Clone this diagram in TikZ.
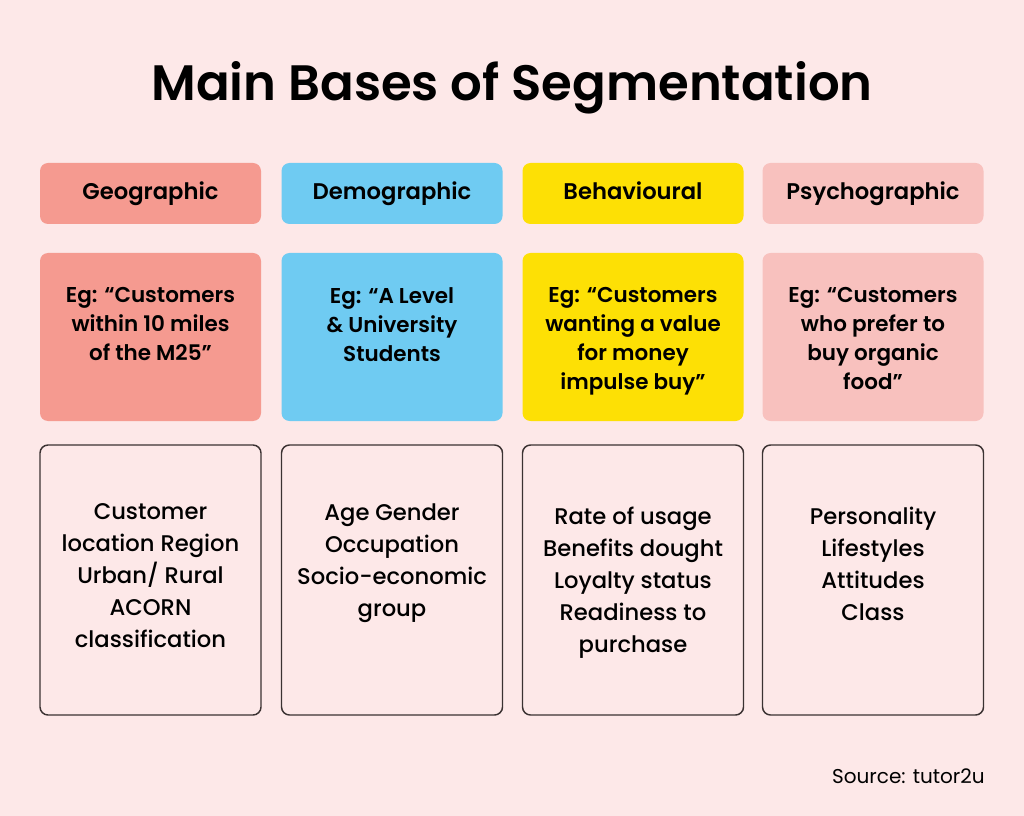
\documentclass[tikz,border=0pt]{standalone}
\usepackage{fontspec}
\setmainfont{Poppins}
\newfontfamily\poppinssemi{Poppins SemiBold}
\newfontfamily\poppinsmed{Poppins Medium}
\usetikzlibrary{positioning}

\definecolor{bgpink}{HTML}{FDE8E8}
\definecolor{geored}{HTML}{F59A90}
\definecolor{demoblue}{HTML}{6FCBF2}
\definecolor{behyellow}{HTML}{FDE005}
\definecolor{psypink}{HTML}{F8C1BE}
\definecolor{inkdark}{HTML}{3B3232}

\tikzset{
  headbox/.style={rectangle, rounded corners=6pt, minimum width=165.75pt, minimum height=45.75pt, inner sep=0pt},
  egbox/.style={rectangle, rounded corners=6pt, minimum width=165.75pt, minimum height=126pt, inner sep=0pt},
  listbox/.style={rectangle, rounded corners=6pt, draw=inkdark, line width=1.1pt, minimum width=165.75pt, minimum height=202.5pt, inner sep=0pt},
  headtxt/.style={font=\fontsize{17}{20}\selectfont\poppinssemi, text=black, text height=12pt, text depth=0pt, inner sep=0pt},
  egtxt/.style={anchor=north, inner sep=0pt, align=center, font=\fontsize{16.1}{21.75}\selectfont\poppinssemi, text=black},
  listtxt/.style={anchor=north, inner sep=0pt, align=center, font=\fontsize{17}{24}\selectfont\poppinsmed, text=black}
}

\begin{document}
\begin{tikzpicture}[x=0.75pt, y=-0.75pt]
    \fill[bgpink] (0,0) rectangle (1024,816);
    \useasboundingbox (0,0) rectangle (1024,816);

    \node[font=\fontsize{37.3}{40}\selectfont\poppinssemi] (title) at (512,88) {Main Bases of Segmentation};

    % top row
    \node[headbox, fill=geored] (geo) at (150.5,193.5) {};
    \node[headbox, fill=demoblue] (demo) at (392,193.5) {};
    \node[headbox, fill=behyellow] (beh) at (633,193.5) {};
    \node[headbox, fill=psypink] (psy) at (873,193.5) {};

    \node[headtxt] (geoT) at (150.5,192) {Geographic};
    \node[headtxt] (demoT) at (392,192) {Demographic};
    \node[headtxt] (behT) at (633,192) {Behavioural};
    \node[headtxt] (psyT) at (873,192) {Psychographic};

    % examples
    \node[egbox, fill=geored] (geoEg) at (150.5,337) {};
    \node[egbox, fill=demoblue] (demoEg) at (392,337) {};
    \node[egbox, fill=behyellow] (behEg) at (633,337) {};
    \node[egbox, fill=psypink] (psyEg) at (873,337) {};

    \node[egtxt] (geoEgT) at (150.5,287) {Eg: “Customers\\within 10 miles\\of the M25”};
    \node[egtxt] (demoEgT) at (392,287) {Eg: “A Level\\\& University\\Students};
    \node[egtxt] (behEgT) at (633,287) {Eg: “Customers\\wanting a value\\for money\\impulse buy”};
    \node[egtxt] (psyEgT) at (873,287) {Eg: “Customers\\who prefer to\\buy organic\\food”};

    % lists
    \node[listbox] (geoL) at (150.5,580) {};
    \node[listbox] (demoL) at (392,580) {};
    \node[listbox] (behL) at (633,580) {};
    \node[listbox] (psyL) at (873,580) {};

    \node[listtxt] (geoLT) at (150.5,503) {Customer\\location Region\\Urban/ Rural\\ACORN\\classification};
    \node[listtxt] (demoLT) at (392,503) {Age Gender\\Occupation\\Socio-economic\\group};
    \node[listtxt] (behLT) at (633,507) {Rate of usage\\Benefits dought\\Loyalty status\\Readiness to\\purchase};
    \node[listtxt] (psyLT) at (873,507) {Personality\\Lifestyles\\Attitudes\\Class};

    \node[anchor=east, inner sep=0pt, font=\fontsize{15}{18}\selectfont] (src) at (985,776) {Source: tutor2u};
\end{tikzpicture}
\end{document}
